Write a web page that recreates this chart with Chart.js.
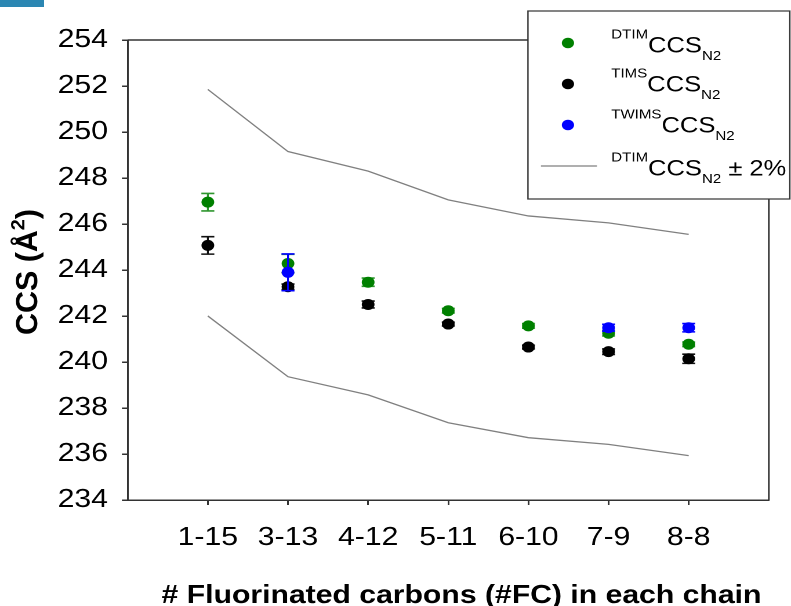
<!DOCTYPE html>
<html><head><meta charset="utf-8">
<script src="https://cdn.jsdelivr.net/npm/chart.js@4.4.0/dist/chart.umd.min.js"></script>
<style>
html,body{margin:0;padding:0;background:#fff;overflow:hidden;width:791px;height:606px;}
#wrap{position:absolute;left:0;top:0;width:682px;height:606px;transform:scaleX(1.1598);transform-origin:0 0;}
canvas{display:block;}
</style></head><body>
<div id="wrap"><canvas id="c" width="682" height="606"></canvas></div>
<script>
// ---- data ----
const categories = ['1-15', '3-13', '4-12', '5-11', '6-10', '7-9', '8-8'];
const dtimCCS   = [246.95, 244.28, 243.47, 242.23, 241.57, 241.25, 240.77];
const dtimErr   = [0.38, 0.40, 0.18, 0.10, 0.10, 0.12, 0.10];
const timsCCS   = [245.07, 243.27, 242.50, 241.65, 240.65, 240.45, 240.14];
const timsErr   = [0.38, 0.12, 0.15, 0.08, 0.08, 0.12, 0.20];
const twimsCCS  = [null, 243.90, null, null, null, 241.49, 241.49];
const twimsErr  = [null, 0.80, null, null, null, 0.15, 0.18];
const upperBand = [251.85, 249.15, 248.30, 247.05, 246.35, 246.05, 245.55];
const lowerBand = [242.00, 239.36, 238.57, 237.36, 236.71, 236.42, 235.93];
const yTicks    = [234, 236, 238, 240, 242, 244, 246, 248, 250, 252, 254];

const FONT = '"Liberation Sans", Arial, sans-serif';
const toPts = arr => arr.map((v, i) => ({x: i + 1, y: v}));

const errorBars = {
  id: 'errorBars',
  beforeDatasetDraw(chart, args) {
    const ds = chart.data.datasets[args.index];
    if (!ds.errors) return;
    const ctx = chart.ctx, xs = chart.scales.x, ys = chart.scales.y;
    ctx.save();
    ctx.strokeStyle = ds.errorColor;
    ctx.lineWidth = 1.6;
    ds.data.forEach((p, j) => {
      const e = ds.errors[j];
      if (p.y == null || e == null) return;
      const px = xs.getPixelForValue(p.x);
      const y1 = ys.getPixelForValue(p.y + e), y2 = ys.getPixelForValue(p.y - e);
      const hw = 5.6;
      ctx.beginPath();
      ctx.moveTo(px, y1); ctx.lineTo(px, y2);
      ctx.moveTo(px - hw, y1); ctx.lineTo(px + hw, y1);
      ctx.moveTo(px - hw, y2); ctx.lineTo(px + hw, y2);
      ctx.stroke();
    });
    ctx.restore();
  }
};

function rich(ctx, x, base, sup, main, sub, tail) {
  ctx.textBaseline = 'alphabetic';
  ctx.textAlign = 'left';
  ctx.fillStyle = '#000';
  ctx.font = '13px ' + FONT;
  ctx.fillText(sup, x, base - 14);
  x += ctx.measureText(sup).width;
  ctx.font = '22px ' + FONT;
  ctx.fillText(main, x, base);
  x += ctx.measureText(main).width;
  ctx.font = '13px ' + FONT;
  ctx.fillText(sub, x, base + 7.5);
  x += ctx.measureText(sub).width;
  if (tail) {
    ctx.font = '22px ' + FONT;
    ctx.fillText(tail, x, base);
  }
}

const decor = {
  id: 'decor',
  afterDraw(chart) {
    const ctx = chart.ctx, a = chart.chartArea;
    ctx.save();
    // frame top / right
    ctx.strokeStyle = '#333';
    ctx.lineWidth = 1.5;
    ctx.beginPath();
    ctx.moveTo(a.left, a.top); ctx.lineTo(a.right, a.top); ctx.lineTo(a.right, a.bottom);
    ctx.stroke();
    // corner tab
    ctx.fillStyle = '#2b86b2';
    ctx.fillRect(0, 0, 38, 7);
    // legend box
    ctx.fillStyle = '#fff';
    ctx.fillRect(455.2, 11, 225.8, 188);
    ctx.strokeStyle = '#333';
    ctx.lineWidth = 1.2;
    ctx.strokeRect(455.2, 11, 225.8, 188);
    const mk = (y, c) => { ctx.fillStyle = c; ctx.beginPath(); ctx.arc(489.7, y, 5.3, 0, Math.PI * 2); ctx.fill(); };
    mk(43, '#008000'); mk(84, '#000000'); mk(125, '#0000ff');
    ctx.strokeStyle = '#808080'; ctx.lineWidth = 1.2;
    ctx.beginPath(); ctx.moveTo(466.4, 166); ctx.lineTo(514.7, 166); ctx.stroke();
    rich(ctx, 527, 52.3, 'DTIM', 'CCS', 'N2');
    rich(ctx, 527, 91.7, 'TIMS', 'CCS', 'N2');
    rich(ctx, 527, 132.7, 'TWIMS', 'CCS', 'N2');
    rich(ctx, 527, 175.7, 'DTIM', 'CCS', 'N2', ' \u00B1 2%');
    // x title
    ctx.fillStyle = '#000';
    ctx.font = 'bold 26px ' + FONT;
    ctx.textAlign = 'center';
    ctx.textBaseline = 'alphabetic';
    ctx.fillText('# Fluorinated carbons (#FC) in each chain', 397.9, 603);
    // y title (rotated)
    ctx.translate(32.2, 272);
    ctx.rotate(-Math.PI / 2);
    ctx.scale(1.17, 1);
    ctx.textAlign = 'left';
    ctx.font = 'bold 26px ' + FONT;
    const p1 = 'CCS (\u00C5';
    const w1 = ctx.measureText(p1).width;
    ctx.font = 'bold 17px ' + FONT;
    const w2 = ctx.measureText('2').width;
    ctx.font = 'bold 26px ' + FONT;
    const w3 = ctx.measureText(')').width;
    let x0 = -(w1 + w2 + w3) / 2;
    ctx.fillText(p1, x0, 0);
    ctx.font = 'bold 17px ' + FONT;
    ctx.fillText('2', x0 + w1, -11);
    ctx.font = 'bold 26px ' + FONT;
    ctx.fillText(')', x0 + w1 + w2, 0);
    ctx.restore();
  }
};

new Chart(document.getElementById('c'), {
  type: 'scatter',
  data: {
    datasets: [
      {label: 'DTIM CCS N2', data: toPts(dtimCCS), errors: dtimErr, errorColor: '#2f962f',
       backgroundColor: '#008000', borderColor: '#008000', pointRadius: 5.5, pointBorderWidth: 0, order: 1},
      {label: 'TIMS CCS N2', data: toPts(timsCCS), errors: timsErr, errorColor: '#111',
       backgroundColor: '#000', borderColor: '#000', pointRadius: 5.5, pointBorderWidth: 0, order: 2},
      {label: 'TWIMS CCS N2', data: toPts(twimsCCS), errors: twimsErr, errorColor: '#0000ff',
       backgroundColor: '#0000ff', borderColor: '#0000ff', pointRadius: 5.5, pointBorderWidth: 0, order: 0},
      {label: 'DTIM CCS N2 +2%', data: toPts(upperBand), showLine: true, borderColor: '#808080',
       borderWidth: 1.3, pointRadius: 0, tension: 0, order: 3},
      {label: 'DTIM CCS N2 -2%', data: toPts(lowerBand), showLine: true, borderColor: '#808080',
       borderWidth: 1.3, pointRadius: 0, tension: 0, order: 3}
    ]
  },
  options: {
    responsive: false,
    animation: false,
    devicePixelRatio: 2,
    layout: {padding: {left: 0, top: 40, right: 19.1, bottom: 0}},
    plugins: {legend: {display: false}, tooltip: {enabled: false}},
    scales: {
      x: {
        type: 'linear', min: 0, max: 8,
        afterBuildTicks: s => { s.ticks = categories.map((c, i) => ({value: i + 1})); },
        afterFit: s => { s.height = 106; },
        grid: {drawOnChartArea: false, drawTicks: true, tickLength: 5, color: '#333', lineWidth: 1.5},
        border: {color: '#333', width: 1.5},
        ticks: {
          autoSkip: false, maxRotation: 0, padding: 17, color: '#000',
          font: {family: FONT, size: 26},
          callback: v => categories[v - 1]
        }
      },
      y: {
        min: 234, max: 254,
        afterBuildTicks: s => { s.ticks = yTicks.map(v => ({value: v})); },
        afterFit: s => { s.width = 110.1; },
        grid: {drawOnChartArea: false, drawTicks: true, tickLength: 5, color: '#333', lineWidth: 1.5},
        border: {color: '#333', width: 1.5},
        ticks: {padding: 12, color: '#000', font: {family: FONT, size: 26}}
      }
    }
  },
  plugins: [errorBars, decor]
});
</script>
</body></html>
